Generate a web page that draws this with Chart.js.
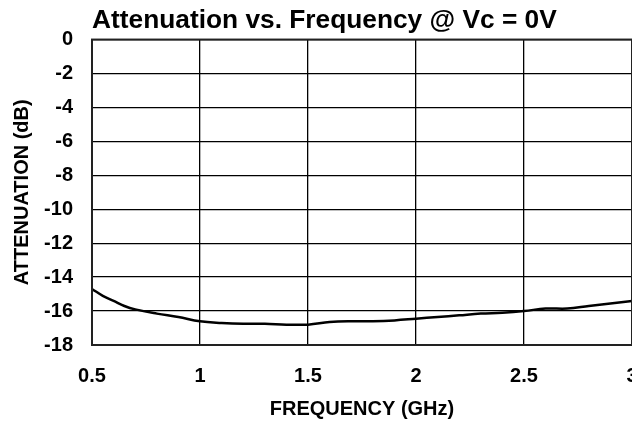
<!DOCTYPE html>
<html>
<head>
<meta charset="utf-8">
<script src="https://cdn.jsdelivr.net/npm/chart.js@4/dist/chart.umd.min.js"></script>
<style>
html,body{margin:0;padding:0;background:#fff;overflow:hidden;}
#wrap{width:632px;height:424px;position:relative;}
</style>
</head>
<body>
<div id="wrap"><canvas id="c" width="632" height="424"></canvas></div>
<script>
const frequency = [0.5,0.55,0.6,0.65,0.7,0.8,0.9,1.0,1.1,1.2,1.3,1.4,1.5,1.6,1.7,1.8,1.9,2.0,2.1,2.2,2.3,2.4,2.5,2.6,2.7,2.8,2.9,3.0];
const attenuation = [-14.7,-15.1,-15.4,-15.7,-15.9,-16.15,-16.35,-16.6,-16.7,-16.75,-16.75,-16.8,-16.8,-16.65,-16.6,-16.6,-16.55,-16.45,-16.35,-16.25,-16.15,-16.1,-16.0,-15.85,-15.85,-15.7,-15.55,-15.4];
const xTicks = [0.5,1,1.5,2,2.5,3];
const xTickLabels = ['0.5','1','1.5','2','2.5','3'];
const yTicks = [0,-2,-4,-6,-8,-10,-12,-14,-16,-18];
const yTickLabels = ['0','-2','-4','-6','-8','-10','-12','-14','-16','-18'];

const FONT = '"Liberation Sans", Arial, Helvetica, sans-serif';
Chart.defaults.font.family = FONT;
Chart.defaults.color = '#000';

new Chart(document.getElementById('c'), {
  type: 'line',
  data: {
    datasets: [{
      data: frequency.map((f,i)=>({x:f, y:attenuation[i]})),
      borderColor: '#000',
      borderWidth: 2.5,
      pointRadius: 0,
      tension: 0.4,
      fill: false
    }]
  },
  options: {
    responsive: false,
    animation: false,
    layout: { padding: 0 },
    plugins: {
      legend: { display: false },
      tooltip: { enabled: false },
      title: {
        display: true,
        text: 'Attenuation vs. Frequency @ Vc = 0V',
        align: 'start',
        fullSize: false,
        color: '#000',
        font: { size: 26.3, weight: 'bold', family: FONT },
        padding: { top: 5, bottom: 3 }
      }
    },
    scales: {
      x: {
        type: 'linear',
        min: 0.5, max: 3,
        afterBuildTicks: (s) => { s.ticks = xTicks.map(v => ({value: v})); },
        afterFit: (s) => { s.height = 79; s.paddingRight = 0; s.paddingLeft = 0; },
        ticks: {
          color: '#000', font: { size: 20, weight: 'bold' }, padding: 19, maxRotation: 0, autoSkip: false,
          callback: (v) => { const i = xTicks.indexOf(v); return i >= 0 ? xTickLabels[i] : String(v); }
        },
        grid: { color: '#000', lineWidth: 1.3, drawTicks: false },
        border: { color: '#222', width: 2 },
        title: { display: true, text: 'FREQUENCY (GHz)', color: '#000', font: { size: 20, weight: 'bold' }, padding: { top: 0, bottom: 3 } }
      },
      y: {
        type: 'linear',
        min: -18, max: 0,
        afterBuildTicks: (s) => { s.ticks = yTicks.map(v => ({value: v})); },
        afterFit: (s) => { s.width = 92; },
        ticks: {
          color: '#000', font: { size: 20, weight: 'bold' }, padding: 19, autoSkip: false,
          callback: (v) => { const i = yTicks.indexOf(v); return i >= 0 ? yTickLabels[i] : String(v); }
        },
        grid: { color: '#000', lineWidth: 1.3, drawTicks: false },
        border: { color: '#222', width: 2 },
        title: { display: true, text: 'ATTENUATION (dB)', color: '#000', font: { size: 20, weight: 'bold' }, padding: { top: 10, bottom: 0 } }
      }
    }
  },
  plugins: [{
    id: 'frame',
    afterDraw(chart) {
      const {ctx, chartArea: a} = chart;
      ctx.save();
      ctx.strokeStyle = '#222';
      ctx.lineWidth = 2;
      ctx.strokeRect(a.left, a.top, a.right - a.left, a.bottom - a.top);
      ctx.restore();
    }
  }]
});
</script>
</body>
</html>
